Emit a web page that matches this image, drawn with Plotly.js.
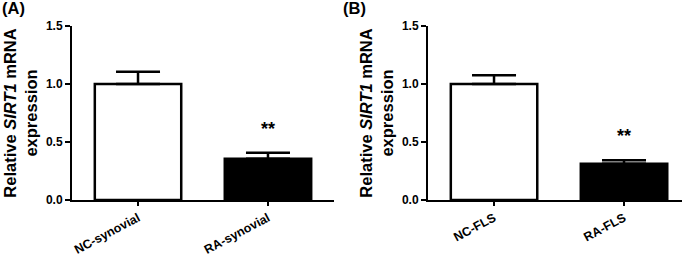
<!DOCTYPE html>
<html>
<head>
<meta charset="utf-8">
<script src="https://cdn.plot.ly/plotly-3.0.1.min.js"></script>
<style>
html,body{margin:0;padding:0;background:#fff;}
#chart{width:682px;height:259px;}
</style>
</head>
<body>
<div id="chart"></div>
<script>
// Panel A
const catsA = ["NC-synovial", "RA-synovial"];
const valsA = [1.00, 0.355];
const errA = [0.105, 0.053];
// Panel B
const catsB = ["NC-FLS", "RA-FLS"];
const valsB = [1.00, 0.313];
const errB = [0.075, 0.030];
const barColors = ["#ffffff", "#000000"];
const yTicks = [0, 0.5, 1.0, 1.5];
const yTickText = ["0.0", "0.5", "1.0", "1.5"];
const signif = ["", "**"];
const panelLabels = ["(A)", "(B)"];

const FONT = "Liberation Sans, Arial, Helvetica, sans-serif";

function barTrace(cats, vals, errs, xa, ya) {
  return {
    type: "bar",
    x: cats,
    y: vals,
    xaxis: xa,
    yaxis: ya,
    width: 0.665,
    marker: { color: barColors, line: { color: "#000", width: 2.5 } },
    error_y: {
      type: "data",
      symmetric: false,
      array: errs,
      arrayminus: errs.map(() => 0),
      color: "#000",
      thickness: 2.5,
      width: 22
    },
    hoverinfo: "none",
    showlegend: false
  };
}

const data = [
  barTrace(catsA, valsA, errA, "x", "y"),
  barTrace(catsB, valsB, errB, "x2", "y2")
];

function yaxisDef(anchor, domain) {
  return {
    anchor: anchor,
    domain: domain,
    range: [0, 1.5],
    tickvals: yTicks,
    ticktext: yTickText,
    ticks: "outside",
    ticklen: 5,
    tickwidth: 2,
    tickcolor: "#000",
    showline: true,
    linecolor: "#000",
    linewidth: 2,
    showgrid: false,
    zeroline: false,
    tickfont: { family: FONT, size: 12, color: "#000", weight: "bold" },
    title: {
      text: "Relative <i>SIRT1</i> mRNA<br>expression",
      font: { family: FONT, size: 16.5, color: "#000", weight: "bold" },
      standoff: 4
    },
    automargin: false,
    fixedrange: true
  };
}

function xaxisDef(anchor, domain, rng) {
  return {
    anchor: anchor,
    domain: domain,
    range: rng,
    type: "category",
    ticks: "outside",
    ticklen: 4,
    tickwidth: 2,
    tickcolor: "#000",
    showline: true,
    linecolor: "#000",
    linewidth: 2,
    showgrid: false,
    zeroline: false,
    tickangle: -28,
    tickfont: { family: FONT, size: 12.5, color: "#000", weight: "bold" },
    automargin: false,
    fixedrange: true
  };
}

const W = 682, H = 259;
const yDom = [(H - 200) / H, (H - 26) / H];

const annotations = [];
[[catsA, valsA, errA, "x", "y"], [catsB, valsB, errB, "x2", "y2"]].forEach(([c, v, e, xa, ya]) => {
  c.forEach((cat, i) => {
    if (signif[i]) {
      annotations.push({
        x: cat, y: v[i] + e[i], xref: xa, yref: ya,
        text: signif[i], showarrow: false, yanchor: "middle", yshift: 24,
        font: { family: FONT, size: 18, color: "#000", weight: "bold" }
      });
    }
  });
});
annotations.push({
  x: 0, y: 1, xref: "paper", yref: "paper", xanchor: "left", yanchor: "top",
  xshift: 0, yshift: 3,
  text: panelLabels[0], showarrow: false,
  font: { family: FONT, size: 16.5, color: "#000", weight: "bold" }
});
annotations.push({
  x: 340 / W, y: 1, xref: "paper", yref: "paper", xanchor: "left", yanchor: "top",
  xshift: 1, yshift: 3,
  text: panelLabels[1], showarrow: false,
  font: { family: FONT, size: 16.5, color: "#000", weight: "bold" }
});

const layout = {
  width: W,
  height: H,
  margin: { l: 0, r: 0, t: 0, b: 0 },
  paper_bgcolor: "#fff",
  plot_bgcolor: "rgba(0,0,0,0)",
  font: { family: FONT, color: "#000" },
  xaxis: xaxisDef("y", [72 / W, 334 / W], [-0.508, 1.508]),
  yaxis: yaxisDef("x", yDom),
  xaxis2: xaxisDef("y2", [428 / W, 1], [-0.508, 1.446]),
  yaxis2: yaxisDef("x2", yDom),
  annotations: annotations,
  showlegend: false
};

Plotly.newPlot("chart", data, layout, { staticPlot: true, displayModeBar: false });
</script>
</body>
</html>
